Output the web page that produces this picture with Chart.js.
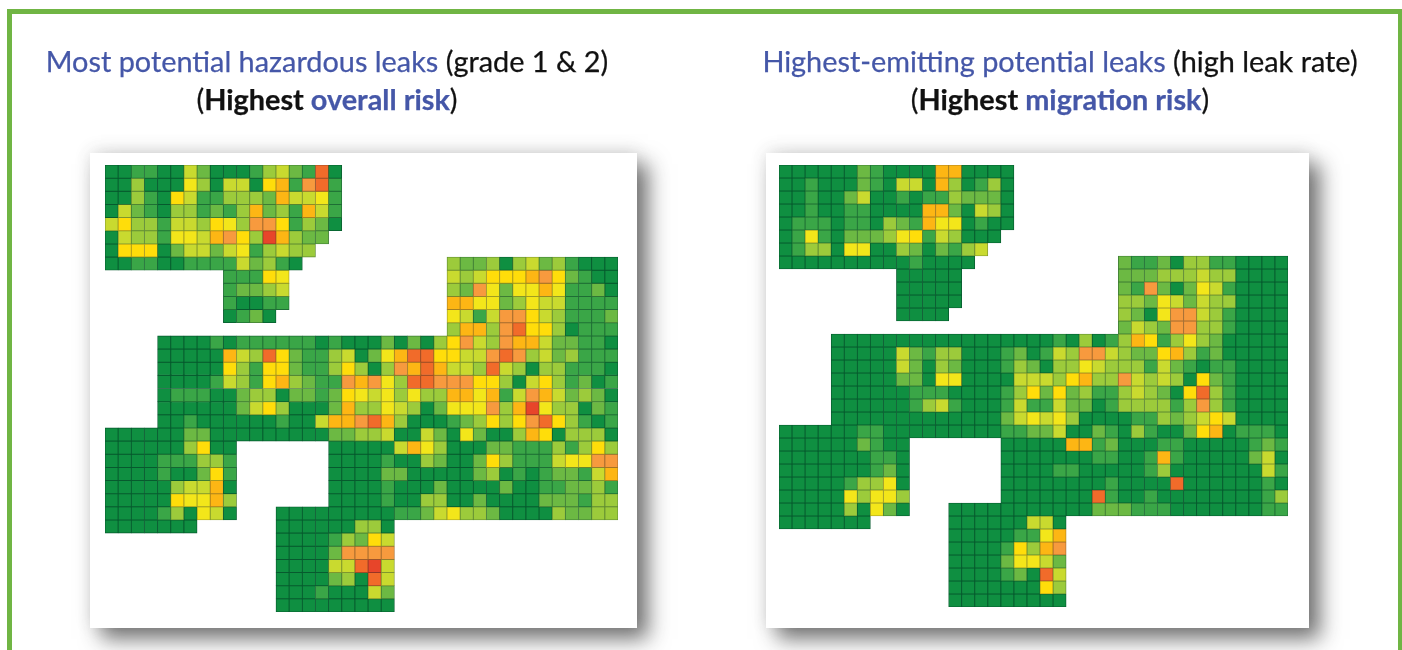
<!DOCTYPE html>
<html><head><meta charset="utf-8">
<script src="https://cdn.jsdelivr.net/npm/chart.js@4/dist/chart.umd.min.js"></script>
<style>
html,body{margin:0;padding:0;background:#fff;width:1402px;height:650px;overflow:hidden}
#frame{position:absolute;left:7px;top:9px;width:1386px;height:700px;border:5px solid #70b544;box-sizing:content-box}
.title{position:absolute;top:42px;width:700px;text-align:center;font-family:Lato,sans-serif;font-size:28.85px;line-height:38px;color:#111;white-space:nowrap;filter:blur(.35px);-webkit-text-stroke:.25px currentColor}
.title .b{color:#4557a8}
.title b{font-weight:700}
.panel{position:absolute;top:153px;height:475px;background:#fff;box-shadow:11px 11px 20px rgba(30,30,30,.62),0 -3px 16px rgba(60,60,60,.12)}
canvas{position:absolute;filter:blur(.4px)}
</style></head><body>
<div id="frame"></div>
<div class="title" style="left:-23px"><span class="b">Most potential hazardous leaks</span> (grade 1 &amp; 2)<br>(<b>Highest <span class="b">overall risk</span></b>)</div>
<div class="title" style="left:710px"><span class="b">Highest-emitting potential leaks</span> (high leak rate)<br>(<b>Highest <span class="b">migration risk</span></b>)</div>
<div class="panel" style="left:90px;width:547px"></div>
<div class="panel" style="left:766px;width:543px"></div>
<canvas id="mapA" width="513" height="447" style="left:105px;top:165px"></canvas>
<canvas id="mapB" width="509" height="442" style="left:779px;top:165px"></canvas>
<script>
// Risk level of each grid cell, hex digit 0-a; every row is a list of [first column, levels] runs.
const riskColours = ["#0f8f41","#3aa647","#6cb943","#9ccb3b","#c9da2f","#f3e61a","#ffdd0a","#fdb614","#f79a3e","#f16b2a","#e7452a"];
const riskOutlines = ["#075a2e","#1f6f35","#3f7d35","#5f8a33","#7f962e","#a09c24","#ab9a1c","#a9801e","#a36a2e","#9c4d26","#963526"];
const columnCount = 39;
const rowCount = 34;
const hazardousLeaks = [
 [[0,"001100420001342190"]],
 [[0,"003000530440671891"]],
 [[0,"003106411333274451"]],
 [[0,"042103312137231741"]],
 [[0,"463314436538861320"]],
 [[0,"043315547863a7322"]],
 [[0,"0666024424513433"]],
 [[0,"001100111142310"],[26,"3223034231000"]],
 [[9,"11165"],[26,"4346667862100"]],
 [[9,"12234"],[26,"3285255751120"]],
 [[9,"10011"],[26,"7755235441111"]],
 [[9,"0120"],[26,"5414886431112"]],
 [[26,"3773896630111"]],
 [[4,"00001011111101000202036843877422110"]],
 [[4,"00000743962113402579966448983423111"]],
 [[4,"00000631662113630387974439430331110"]],
 [[4,"00001431673211878539988866304631201"]],
 [[4,"01110023302212654535337757148742320"]],
 [[4,"0000002463000273354302555837a533021"]],
 [[4,"00100000010047789730001236368963101"]],
 [[0,"000000220000000002233400420520037603330"]],
 [[0,"0000003600"],[17,"0000047530002211131363"]],
 [[0,"0000111331"],[17,"0000100320026311145588"]],
 [[0,"0000100261"],[17,"0000220000023010122147"]],
 [[0,"0000034470"],[17,"0000100020000200112231"]],
 [[0,"0000065573"],[17,"0000100330020000222133"]],
 [[0,"0000130540"],[13,"00000000011245332000032233"]],
 [[0,"0000000"],[13,"000000330"]],
 [[13,"000013264"]],
 [[13,"000028888"]],
 [[13,"0000449a4"]],
 [[13,"000023094"]],
 [[13,"000100042"]],
 [[13,"000000000"]]
];
const highEmittingLeaks = [
 [[0,"000000210000770000"]],
 [[0,"001000210440730130"]],
 [[0,"001002400101132220"]],
 [[0,"001001100007720430"]],
 [[0,"011101103217550100"]],
 [[0,"01510222356143000"]],
 [[0,"0133055003202134"]],
 [[0,"000000000010000"],[26,"2112033110000"]],
 [[9,"00000"],[26,"2223334330000"]],
 [[9,"00000"],[26,"2182025410000"]],
 [[9,"00000"],[26,"3325424330000"]],
 [[9,"0000"],[26,"3205884310000"]],
 [[26,"2432883310000"]],
 [[4,"00000000000000000103013761353200000"]],
 [[4,"00000421330001201438843226731200000"]],
 [[4,"00000420320001320335433314210110000"]],
 [[4,"00000220550000444367338434306210000"]],
 [[4,"00000011100001362623113432069310000"]],
 [[4,"00000013410001411422013333138310000"]],
 [[4,"00000000000002454530000113234640000"]],
 [[0,"000000110000000001122400210310026701110"]],
 [[0,"0000002100"],[17,"0000077120001100000121"]],
 [[0,"0000000110"],[17,"0000000110017100000240"]],
 [[0,"0000000120"],[17,"0000110000013000000041"]],
 [[0,"0000013350"],[17,"0000000010000900000010"]],
 [[0,"0000053553"],[17,"0000000910010000000013"]],
 [[0,"0000030520"],[13,"00000000000222111000000011"]],
 [[0,"0000000"],[13,"000000440"]],
 [[13,"000001157"]],
 [[13,"000016378"]],
 [[13,"000025542"]],
 [[13,"000012094"]],
 [[13,"000000063"]],
 [[13,"000000000"]]
];
const columnLabels = Array.from({length:columnCount},(_,i)=>String(i));

function rowDataset(row,index){
  const data = new Array(columnCount).fill(null);
  const fills = new Array(columnCount).fill("rgba(0,0,0,0)");
  const outlines = new Array(columnCount).fill("rgba(0,0,0,0)");
  row.forEach(([start,levels])=>{
    [...levels].forEach((ch,k)=>{
      const level = parseInt(ch,16);
      data[start+k] = [index,index+1];
      fills[start+k] = riskColours[level];
      outlines[start+k] = riskOutlines[level];
    });
  });
  return {label:"Row "+index,data,backgroundColor:fills,borderColor:outlines,borderWidth:.85,borderSkipped:false,inflateAmount:.35,grouped:false,barPercentage:1,categoryPercentage:1};
}
function drawMap(id,grid){
  new Chart(document.getElementById(id),{
    type:"bar",
    data:{labels:columnLabels,datasets:grid.map(rowDataset)},
    options:{
      responsive:false,animation:false,
      layout:{padding:0},
      plugins:{legend:{display:false},title:{display:false},tooltip:{enabled:false}},
      scales:{
        x:{display:false,offset:true,grid:{display:false}},
        y:{display:false,min:0,max:rowCount,reverse:true,grid:{display:false}}
      }
    }
  });
}
drawMap("mapA",hazardousLeaks);
drawMap("mapB",highEmittingLeaks);
</script>
</body></html>
